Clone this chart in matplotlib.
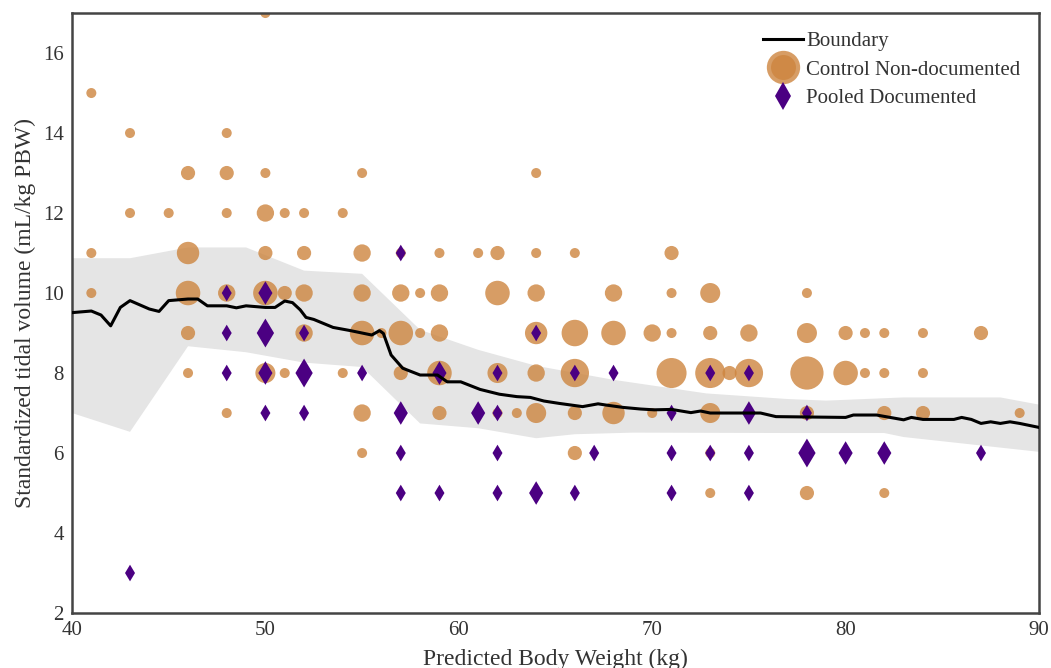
import numpy as np
import matplotlib
matplotlib.use("Agg")
import matplotlib.pyplot as plt
from matplotlib.lines import Line2D
from matplotlib.legend_handler import HandlerTuple

# ---------------- data ----------------
control_pbw = [41, 41, 41, 43, 43, 45,
               46, 46, 46, 46, 46,
               48, 48, 48, 48, 48,
               50, 50, 50, 50, 50, 50, 50,
               51, 51, 51,
               52, 52, 52, 52,
               54, 54,
               55, 55, 55, 55, 55, 55,
               56,
               57, 57, 57, 57,
               58, 58,
               59, 59, 59, 59, 59,
               61,
               62, 62, 62, 62,
               63,
               64, 64, 64, 64, 64, 64,
               66, 66, 66, 66, 66,
               68, 68, 68,
               70, 70,
               71, 71, 71, 71,
               73, 73, 73, 73, 73, 73,
               74,
               75, 75,
               78, 78, 78, 78, 78,
               80, 80,
               81, 81,
               82, 82, 82, 82, 82,
               84, 84, 84,
               87,
               89]
control_vt = [15, 11, 10, 14, 12, 12,
              13, 11, 10, 9, 8,
              14, 13, 12, 10, 7,
              17, 13, 12, 11, 10, 9, 8,
              12, 10, 8,
              12, 11, 10, 9,
              12, 8,
              13, 11, 10, 9, 7, 6,
              9,
              11, 10, 9, 8,
              10, 9,
              11, 10, 9, 8, 7,
              11,
              11, 10, 8, 7,
              7,
              13, 11, 10, 9, 8, 7,
              11, 9, 8, 7, 6,
              10, 9, 7,
              9, 7,
              11, 10, 9, 8,
              10, 9, 8, 7, 6, 5,
              8,
              9, 8,
              10, 9, 8, 7, 5,
              9, 8,
              9, 8,
              9, 8, 7, 6, 5,
              9, 8, 7,
              9,
              7]
control_count = [1, 1, 1, 1, 1, 1,
                 2, 5, 6, 2, 1,
                 1, 2, 1, 3, 1,
                 1, 1, 3, 2, 6, 1, 4,
                 1, 2, 1,
                 1, 2, 3, 3,
                 1, 1,
                 1, 3, 3, 6, 3, 1,
                 1,
                 1, 3, 6, 2,
                 1, 1,
                 1, 3, 3, 6, 2,
                 1,
                 2, 6, 4, 1,
                 1,
                 1, 1, 3, 5, 3, 4,
                 1, 7, 8, 2, 2,
                 3, 6, 5,
                 3, 1,
                 2, 1, 1, 9,
                 4, 2, 9, 4, 1, 1,
                 2,
                 3, 8,
                 1, 4, 11, 2, 2,
                 2, 6,
                 1, 1,
                 1, 1, 2, 1, 1,
                 1, 1, 2,
                 2,
                 1]

doc_pbw = [43, 48, 48, 48, 50, 50, 50, 50, 52, 52, 52, 55,
           57, 57, 57, 57, 59, 59, 61, 62, 62, 62, 62, 64, 64,
           66, 66, 67, 68, 71, 71, 71, 73, 73, 75, 75, 75, 75,
           78, 78, 80, 82, 87]
doc_vt = [3, 10, 9, 8, 10, 9, 8, 7, 9, 8, 7, 8,
          11, 7, 6, 5, 8, 5, 7, 8, 7, 6, 5, 9, 5,
          8, 5, 6, 8, 7, 6, 5, 8, 6, 8, 7, 6, 5,
          7, 6, 6, 6, 6]
doc_count = [1, 1, 1, 1, 2, 3, 2, 1, 1, 3, 1, 1,
             1, 2, 1, 1, 2, 1, 2, 1, 1, 1, 1, 1, 2,
             1, 1, 1, 1, 1, 1, 1, 1, 1, 1, 2, 1, 1,
             1, 3, 2, 2, 1]

boundary_pbw = [40, 41, 41.5, 42, 42.5, 43, 44, 44.5, 45, 46, 46.5, 47, 48,
                48.5, 49, 50, 50.5, 51, 51.4, 51.8, 52.1, 52.5, 53.5, 54.4,
                55.5, 55.9, 56.1, 56.5, 57.1, 58, 58.9, 59.4, 60.1, 61.1,
                62.1, 63, 63.7, 64.4, 65.2, 66.4, 67.2, 67.6, 68.5, 69.4,
                70.1, 71, 72, 72.5, 73, 75.6, 76.4, 80.0, 80.4, 81.6, 82.3,
                83, 83.4, 84, 85.6, 86.0, 86.5, 87, 87.5, 88, 88.5, 89, 90]
boundary_vt = [9.51, 9.55, 9.45, 9.18, 9.64, 9.81, 9.6, 9.54, 9.81, 9.85,
               9.85, 9.68, 9.68, 9.63, 9.68, 9.64, 9.64, 9.8, 9.76, 9.58,
               9.39, 9.34, 9.14, 9.06, 8.95, 9.06, 8.99, 8.45, 8.12, 7.95,
               7.95, 7.78, 7.78, 7.59, 7.47, 7.41, 7.39, 7.3, 7.24, 7.16,
               7.23, 7.2, 7.14, 7.1, 7.08, 7.09, 7.01, 7.05, 7.0, 7.0, 6.91,
               6.89, 6.95, 6.95, 6.89, 6.83, 6.89, 6.84, 6.84, 6.89, 6.84,
               6.74, 6.78, 6.74, 6.78, 6.74, 6.64]

band_upper_pbw = [40, 43, 46, 49, 52, 55, 58, 61, 64, 68, 72.8, 77, 79, 83, 88, 90]
band_upper_vt = [10.87, 10.87, 11.14, 11.14, 10.56, 10.48, 9.08, 8.58, 8.18,
                 7.83, 7.49, 7.35, 7.31, 7.39, 7.39, 7.21]
band_lower_pbw = [40, 43, 46, 49, 52, 55, 58, 61, 64, 66, 69, 77, 82, 83, 90]
band_lower_vt = [7.0, 6.53, 8.67, 8.52, 8.26, 8.15, 6.74, 6.62, 6.37, 6.47,
                 6.51, 6.50, 6.50, 6.40, 6.03]

# ---------------- style ----------------
plt.rcParams['font.family'] = ['Liberation Serif', 'DejaVu Serif']
ORANGE = 'peru'
PURPLE = 'indigo'

fig = plt.figure(figsize=(10.51, 6.68), dpi=100)
ax = fig.add_axes([0.0685, 0.0823, 0.9201, 0.8982])

band_x = np.concatenate([band_upper_pbw, band_lower_pbw[::-1]])
band_y = np.concatenate([band_upper_vt, band_lower_vt[::-1]])
ax.fill(band_x, band_y, color='#e5e5e5', lw=0, zorder=1)

ax.scatter(control_pbw, control_vt, s=np.array(control_count) * 52,
           color=ORANGE, alpha=0.8, lw=0, zorder=2)
ax.scatter(doc_pbw, doc_vt, s=np.array(doc_count) * 72, marker='d',
           color=PURPLE, lw=0, zorder=3)
ax.plot(boundary_pbw, boundary_vt, color='black', lw=2.2, zorder=4)

ax.set_xlim(40, 90)
ax.set_ylim(2, 17)
ax.set_xticks([40, 50, 60, 70, 80, 90])
ax.set_yticks([2, 4, 6, 8, 10, 12, 14, 16])
ax.tick_params(length=0, labelsize=15, labelcolor='#333333', pad=6)
for sp in ax.spines.values():
    sp.set_color('#444444')
    sp.set_linewidth(1.8)

ax.set_xlabel('Predicted Body Weight (kg)', fontsize=17, color='#333333', labelpad=6)
ax.set_ylabel('Standardized tidal volume (mL/kg PBW)', fontsize=17, color='#333333', labelpad=5)

h_line = Line2D([], [], color='black', lw=2.2)
h_circ = (Line2D([], [], marker='o', ls='', color=ORANGE, alpha=0.8, markersize=24, mew=0),
          Line2D([], [], marker='o', ls='', color=ORANGE, alpha=0.8, markersize=18, mew=0))
h_dia = Line2D([], [], marker='d', ls='', color=PURPLE, markersize=14, mew=0)
leg = ax.legend([h_line, h_circ, h_dia],
                ['Boundary', 'Control Non-documented', 'Pooled Documented'],
                handler_map={tuple: HandlerTuple(ndivide=1, pad=0)},
                loc='upper right', bbox_to_anchor=(1.0, 1.0), frameon=False,
                fontsize=15, handlelength=1.9, handletextpad=0.15, labelspacing=0.42)
for t in leg.get_texts():
    t.set_color('#333333')

fig.savefig('out.png', dpi=100)
